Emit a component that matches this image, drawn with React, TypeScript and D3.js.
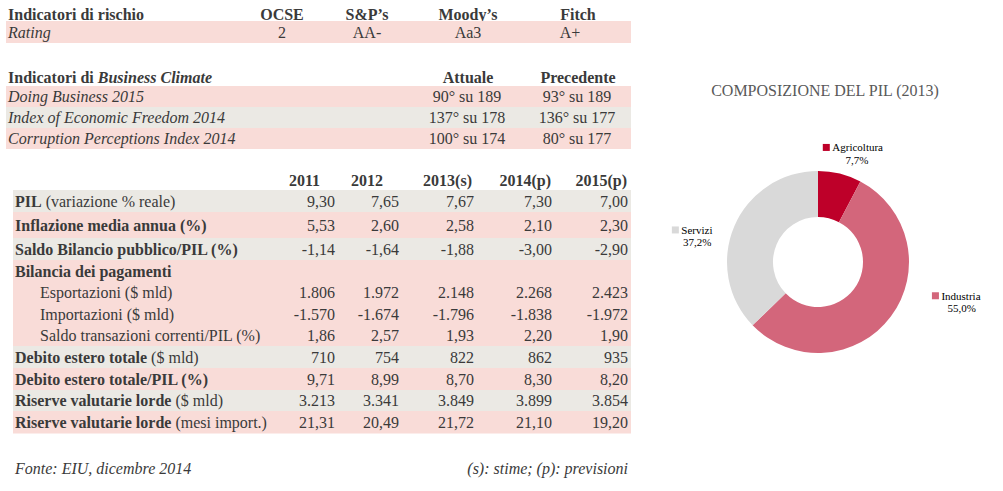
import React from "react";
import * as d3 from "d3";

// ---------- DATA ----------
const ratingAgencies = ["OCSE", "S&P’s", "Moody’s", "Fitch"];
const ratingValues = ["2", "AA-", "Aa3", "A+"];

const climateLabels = [
  "Doing Business 2015",
  "Index of Economic Freedom 2014",
  "Corruption Perceptions Index 2014",
];
const climateAttuale = ["90° su 189", "137° su 178", "100° su 174"];
const climatePrecedente = ["93° su 189", "136° su 177", "80° su 177"];

const years = ["2011", "2012", "2013(s)", "2014(p)", "2015(p)"];

// label parts: [bold part, regular part]
const indicatorBold = [
  "PIL",
  "Inflazione media annua (%)",
  "Saldo Bilancio pubblico/PIL (%)",
  "Bilancia dei pagamenti",
  "",
  "",
  "",
  "Debito estero totale",
  "Debito estero totale/PIL (%)",
  "Riserve valutarie lorde",
  "Riserve valutarie lorde",
];
const indicatorRegular = [
  " (variazione % reale)",
  "",
  "",
  "",
  "Esportazioni ($ mld)",
  "Importazioni ($ mld)",
  "Saldo transazioni correnti/PIL (%)",
  " ($ mld)",
  "",
  " ($ mld)",
  " (mesi import.)",
];
const indicatorValues: string[][] = [
  ["9,30", "7,65", "7,67", "7,30", "7,00"],
  ["5,53", "2,60", "2,58", "2,10", "2,30"],
  ["-1,14", "-1,64", "-1,88", "-3,00", "-2,90"],
  ["", "", "", "", ""],
  ["1.806", "1.972", "2.148", "2.268", "2.423"],
  ["-1.570", "-1.674", "-1.796", "-1.838", "-1.972"],
  ["1,86", "2,57", "1,93", "2,20", "1,90"],
  ["710", "754", "822", "862", "935"],
  ["9,71", "8,99", "8,70", "8,30", "8,20"],
  ["3.213", "3.341", "3.849", "3.899", "3.854"],
  ["21,31", "20,49", "21,72", "21,10", "19,20"],
];
// band colour per row: "g" grey, "p" pink
const indicatorBand = ["g", "p", "g", "p", "p", "p", "p", "g", "p", "g", "p"];
const indicatorIndent = [false, false, false, false, true, true, true, false, false, false, false];
// row heights in px (inflation row slightly taller)
const indicatorHeights = [22, 26, 22, 22, 21, 22, 21, 22, 22, 21, 22];

const sectors = ["Agricoltura", "Industria", "Servizi"];
const shares = [7.7, 55.0, 37.2];
const shareLabels = ["7,7%", "55,0%", "37,2%"];

// ---------- STYLE ----------
const PINK = "#f9dcd8";
const GREY = "#ebe9e4";
const TXT = "#3a3a3a";
const FONT = "'Liberation Serif', 'Times New Roman', serif";
const FS = 16;
const sectorColors = ["#be0029", "#d3667b", "#d9d9d9"];

export default function App() {
  const W = 1003;
  const H = 491;

  // --- top rating table ---
  const ratingCenters = [282, 367, 468, 570];
  const headerCenters = [282, 367, 468, 578];

  // --- climate table ---
  const climateTop = 86;
  const climateRowH = 21;
  const attualeX = 468;
  const precedenteX = 578;

  // --- indicators table ---
  const tableTop = 190;
  const tableLeft = 13;
  const tableRight = 631;
  const colRights = [335, 399, 474, 552, 628];
  const headerRights = [320, 383, 472, 551, 627];
  const rowTops: number[] = [];
  indicatorHeights.reduce((acc, h) => {
    rowTops.push(acc);
    return acc + h;
  }, tableTop);

  // --- donut ---
  const cx = 818;
  const cy = 262;
  const pie = d3.pie<number>().sort(null).value((d) => d)(shares);
  const arc = d3.arc<d3.PieArcDatum<number>>().innerRadius(45).outerRadius(91);
  const labelArc = d3.arc<d3.PieArcDatum<number>>().innerRadius(118).outerRadius(118);
  // nudges for Excel-like label placement (relative to label-arc centroid)
  const labelNudge: [number, number][] = [
    [-20, 0],
    [23, -37],
    [-34, 14],
  ];

  return (
    <svg
      width={W}
      height={H}
      style={{ position: "absolute", left: 0, top: 0, background: "#fff", fontFamily: FONT }}
    >
      {/* Rating table */}
      <text x={8} y={19.5} fontSize={FS} fontWeight="bold" fill={TXT}>
        Indicatori di rischio
      </text>
      {ratingAgencies.map((a, i) => (
        <text key={a} x={headerCenters[i]} y={19.5} fontSize={FS} fontWeight="bold" fill={TXT} textAnchor="middle">
          {a}
        </text>
      ))}
      <rect x={6} y={21} width={625} height={22} fill={PINK} />
      <text x={8} y={37.5} fontSize={FS} fontStyle="italic" fill={TXT}>
        Rating
      </text>
      {ratingValues.map((v, i) => (
        <text key={i} x={ratingCenters[i]} y={37.5} fontSize={FS} fill={TXT} textAnchor="middle">
          {v}
        </text>
      ))}

      {/* Business climate */}
      <text x={8} y={82.5} fontSize={FS} fontWeight="bold" fill={TXT}>
        Indicatori di <tspan fontStyle="italic">Business Climate</tspan>
      </text>
      <text x={attualeX} y={82.5} fontSize={FS} fontWeight="bold" fill={TXT} textAnchor="middle">
        Attuale
      </text>
      <text x={precedenteX} y={82.5} fontSize={FS} fontWeight="bold" fill={TXT} textAnchor="middle">
        Precedente
      </text>
      {climateLabels.map((l, i) => {
        const y0 = climateTop + i * climateRowH;
        return (
          <g key={l}>
            <rect x={6} y={y0} width={625} height={climateRowH} fill={i === 1 ? GREY : PINK} />
            <text x={8} y={y0 + 16} fontSize={FS} fontStyle="italic" fill={TXT}>
              {l}
            </text>
            <text x={attualeX - 1} y={y0 + 16} fontSize={FS} fill={TXT} textAnchor="middle">
              {climateAttuale[i]}
            </text>
            <text x={precedenteX - 1} y={y0 + 16} fontSize={FS} fill={TXT} textAnchor="middle">
              {climatePrecedente[i]}
            </text>
          </g>
        );
      })}

      {/* Indicators table */}
      {years.map((y, i) => (
        <text key={y} x={headerRights[i]} y={185.5} fontSize={FS} fontWeight="bold" fill={TXT} textAnchor="end">
          {y}
        </text>
      ))}
      {indicatorBold.map((b, i) => {
        const y0 = rowTops[i];
        const h = indicatorHeights[i];
        const ty = y0 + h / 2 + 5.5;
        return (
          <g key={i}>
            <rect x={tableLeft} y={y0} width={tableRight - tableLeft} height={h + 0.5} fill={indicatorBand[i] === "g" ? GREY : PINK} />
            <text x={indicatorIndent[i] ? 40 : 15} y={ty} fontSize={FS} fill={TXT}>
              {b && <tspan fontWeight="bold">{b}</tspan>}
              {indicatorRegular[i] && <tspan>{indicatorRegular[i]}</tspan>}
            </text>
            {indicatorValues[i].map((v, j) => (
              <text key={j} x={colRights[j]} y={ty} fontSize={FS} fill={TXT} textAnchor="end">
                {v}
              </text>
            ))}
          </g>
        );
      })}

      {/* Footer */}
      <text x={15} y={473.5} fontSize={FS} fontStyle="italic" fill={TXT}>
        Fonte: EIU, dicembre 2014
      </text>
      <text x={628} y={473.5} fontSize={FS} fontStyle="italic" fill={TXT} textAnchor="end">
        (s): stime; (p): previsioni
      </text>

      {/* Donut chart */}
      <text x={825} y={95.5} fontSize={16} fill="#595959" textAnchor="middle">
        COMPOSIZIONE DEL PIL (2013)
      </text>
      <g transform={`translate(${cx},${cy})`}>
        {pie.map((p, i) => (
          <path key={sectors[i]} d={arc(p) || ""} fill={sectorColors[i]} />
        ))}
        {pie.map((p, i) => {
          const [lx, ly] = labelArc.centroid(p);
          const x = lx + labelNudge[i][0];
          const y = ly + labelNudge[i][1];
          const nameW = sectors[i].length * 4.5;
          return (
            <g key={"l" + i} transform={`translate(${x},${y})`}>
              <rect x={-3.5} y={-3.5} width={7} height={7} fill={sectorColors[i]} />
              <text x={6} y={4} fontSize={11} fill="#000">
                {sectors[i]}
              </text>
              <text x={6 + nameW / 2} y={16.5} fontSize={11} fill="#000" textAnchor="middle">
                {shareLabels[i]}
              </text>
            </g>
          );
        })}
      </g>
    </svg>
  );
}
